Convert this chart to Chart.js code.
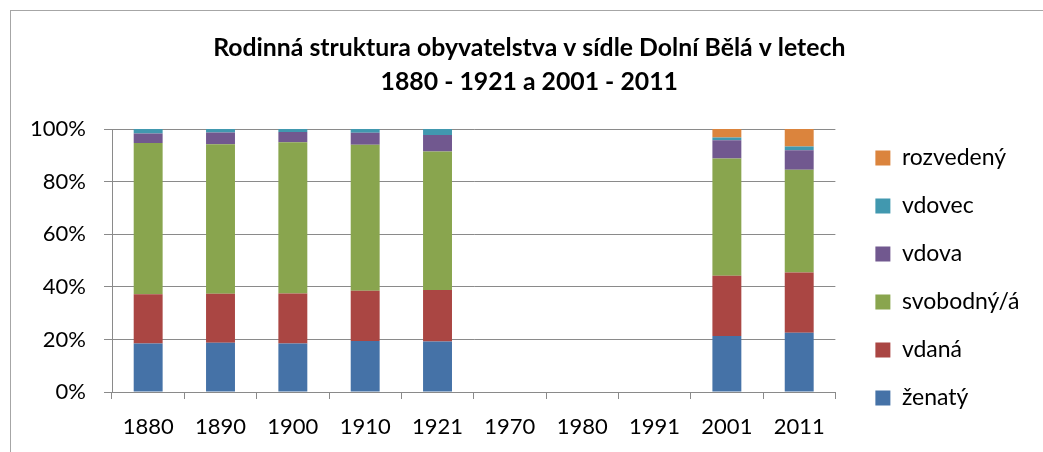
<!DOCTYPE html>
<html>
<head>
<meta charset="utf-8">
<script src="https://cdn.jsdelivr.net/npm/chart.js@4/dist/chart.umd.min.js"></script>
<style>
  html, body { margin: 0; padding: 0; background: #fff; overflow: hidden; }
  .frame { position: absolute; left: 10px; top: 10px; width: 1100px; height: 500px; border: 1px solid #a6a6a6; }
  .wrap { position: absolute; left: 11px; top: 11px; width: 1047px; height: 441px; }
</style>
</head>
<body>
<div class="frame"></div>
<div class="wrap"><canvas id="chart"></canvas></div>
<script>
// roky sčítání
const years = ['1880', '1890', '1900', '1910', '1921', '1970', '1980', '1991', '2001', '2011'];

// podíly v % (1970-1991 bez údajů)
const zenaty     = [18.4, 18.7, 18.4, 19.4, 19.2, null, null, null, 21.3, 22.5];
const vdana      = [18.8, 18.7, 19.1, 19.1, 19.6, null, null, null, 22.9, 22.9];
const svobodny   = [57.5, 56.8, 57.5, 55.5, 52.7, null, null, null, 44.6, 39.1];
const vdova      = [3.6, 4.5, 3.9, 4.6, 6.2, null, null, null, 6.9, 7.4];
const vdovec     = [1.7, 1.3, 1.1, 1.4, 2.3, null, null, null, 1.1, 1.5];
const rozvedeny  = [0, 0, 0, 0, 0, null, null, null, 3.2, 6.6];

const yTicks = [0, 20, 40, 60, 80, 100];

const font = "Lato, 'Open Sans', sans-serif";
const gridColor = '#8a8a8a';

function ds(label, data, color) {
    return { label: label, data: data, backgroundColor: color, borderWidth: 0,
             barPercentage: 0.4, categoryPercentage: 1.0 };
}

new Chart(document.getElementById('chart'), {
    type: 'bar',
    data: {
        labels: years,
        datasets: [
            ds('ženatý', zenaty, '#4572A7'),
            ds('vdaná', vdana, '#AA4643'),
            ds('svobodný/á', svobodny, '#89A54E'),
            ds('vdova', vdova, '#71588F'),
            ds('vdovec', vdovec, '#4198AF'),
            ds('rozvedený', rozvedeny, '#DB843D')
        ]
    },
    options: {
        responsive: true,
        maintainAspectRatio: false,
        animation: false,
        layout: { padding: { left: 18, right: 28.5, top: 0, bottom: 0 } },
        plugins: {
            title: {
                display: true,
                text: ['Rodinná struktura obyvatelstva v sídle Dolní Bělá v letech', '1880 - 1921 a 2001 - 2011'],
                color: '#000',
                font: { family: font, size: 24.8, weight: 'bold', lineHeight: 1.38 },
                padding: { top: 20, bottom: 29.6 }
            },
            legend: {
                position: 'right',
                reverse: true,
                // prázdný titulek jen posouvá položky legendy dolů
                title: { display: true, text: '', font: { size: 12, lineHeight: 1.2 }, padding: 31.8 },
                labels: {
                    color: '#000',
                    font: { family: font, size: 23, lineHeight: '8px' },
                    boxWidth: 15,
                    boxHeight: 15,
                    padding: 40,
                    // text jako pole -> výška řádku legendy se bere z lineHeight
                    generateLabels: function (chart) {
                        const items = Chart.defaults.plugins.legend.labels.generateLabels(chart);
                        items.forEach(it => { it.text = [it.text]; });
                        return items;
                    }
                }
            },
            tooltip: { enabled: false }
        },
        scales: {
            x: {
                stacked: true,
                grid: { display: true, drawOnChartArea: false, color: gridColor, tickLength: 7, offset: true },
                border: { color: gridColor, width: 1 },
                ticks: { color: '#000', font: { family: font, size: 22 }, padding: 15, maxRotation: 0 },
                afterFit: function (scale) { scale.height = 60; }
            },
            y: {
                stacked: true,
                min: 0,
                max: 100,
                afterBuildTicks: function (scale) { scale.ticks = yTicks.map(v => ({ value: v })); },
                grid: { color: gridColor, tickLength: 8 },
                border: { color: gridColor, width: 1 },
                ticks: {
                    color: '#000',
                    font: { family: font, size: 22 },
                    padding: 18,
                    callback: function (v) { return v + '%'; }
                },
                afterFit: function (scale) { scale.width = 83; }
            }
        }
    }
});
</script>
</body>
</html>
